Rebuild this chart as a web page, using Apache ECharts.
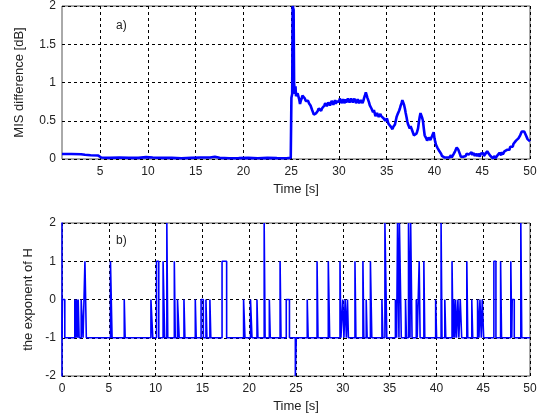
<!DOCTYPE html>
<html>
<head>
<meta charset="utf-8">
<style>
html,body{margin:0;padding:0;background:#fff;}
#chart{width:547px;height:419px;}
</style>
<script src="https://cdn.jsdelivr.net/npm/echarts@6/dist/echarts.min.js"></script>
</head>
<body>
<div id="chart"></div>
<script>
// ---- Panel a) MIS difference [dB] over time ----
var misTime = [1.0,2.0,3.0,3.4,4.0,4.8,5.1,6.0,7.0,8.0,9.0,9.8,10.5,11.5,12.5,13.5,14.5,15.5,16.5,17.0,17.5,18.5,19.5,20.5,21.5,22.5,23.5,24.5,24.95,
25.02,25.1,25.15,25.25,25.3,25.38,25.45,25.5,
25.58,25.665,25.75,25.835,25.92,26.0,26.09,26.175,26.26,26.345,26.43,26.515,26.6,26.685,26.77,26.855,26.94,27.02,27.1,27.19,27.28,27.365,27.45,27.535,27.62,27.705,27.79,27.875,27.96,28.045,28.13,28.215,28.3,28.385,
28.47,28.555,28.64,28.72,28.8,28.885,28.97,29.06,29.15,29.235,29.32,29.41,29.5,29.585,29.67,29.75,29.83,29.915,
30.0,30.085,30.17,30.26,30.35,30.425,30.5,30.59,30.68,30.765,30.85,30.935,31.02,31.105,31.19,31.275,31.36,31.445,31.53,31.615,31.7,31.785,31.87,31.955,
32.04,32.12,32.2,32.29,32.38,32.465,32.55,32.635,32.72,32.81,32.9,32.98,33.06,33.145,33.23,33.315,33.4,33.485,33.57,33.655,33.74,33.82,33.9,33.985,
34.07,34.16,34.25,34.335,34.42,34.51,34.6,34.685,34.77,34.85,34.93,35.015,35.1,35.185,35.27,35.355,35.44,35.52,35.6,35.69,35.78,
35.86,35.945,36.03,36.12,36.21,36.295,36.38,36.465,36.55,36.635,36.72,36.81,36.9,36.985,37.07,37.155,37.24,37.325,37.41,37.5,37.59,37.675,37.76,37.845,37.93,38.015,
38.1,38.19,38.28,38.365,38.45,38.535,38.62,38.705,38.79,38.88,38.97,39.055,39.14,39.225,39.31,39.395,39.48,39.57,39.66,39.745,39.83,39.915,
40.0,40.085,40.17,40.255,40.34,40.43,40.52,40.605,40.69,40.775,40.86,40.945,41.03,41.12,41.21,41.295,41.38,41.465,41.55,41.635,41.72,41.81,41.9,41.985,
42.07,42.155,42.24,42.325,42.41,42.5,42.59,42.675,42.76,42.845,42.93,43.015,43.1,43.19,43.28,43.365,43.45,43.535,43.62,43.705,43.79,43.88,43.97,44.055,
44.14,44.225,44.31,44.395,44.48,44.57,44.66,44.745,44.83,44.915,45.0,45.085,45.17,45.255,45.34,45.43,45.52,45.605,45.69,45.775,45.86,45.945,
46.03,46.12,46.21,46.295,46.38,46.465,46.55,46.635,46.72,46.81,46.9,46.985,47.07,47.155,47.24,47.325,47.41,47.5,47.59,47.675,47.76,47.845,47.93,48.015,
48.1,48.19,48.28,48.365,48.45,48.535,48.62,48.705,48.79,48.88,48.97,49.055,49.14,49.225,49.31,49.395,49.48,49.57,49.66,49.745,49.83,49.915,50.0];
var misValue = [0.065,0.065,0.063,0.055,0.05,0.045,0.02,0.015,0.02,0.015,0.015,0.025,0.02,0.015,0.015,0.01,0.015,0.02,0.02,0.03,0.015,0.01,0.012,0.015,0.01,0.015,0.012,0.01,0.015,
0.8,0.85,2.0,1.95,1.0,0.85,0.95,0.82,
0.81,0.86,0.85,0.78,0.72,0.76,0.79,0.83,0.81,0.83,0.79,0.76,0.74,0.78,0.76,0.73,0.72,0.70,0.68,0.64,0.61,0.58,0.57,0.59,0.60,0.62,0.63,0.66,0.67,0.64,0.63,0.66,0.68,0.66,
0.70,0.73,0.72,0.69,0.70,0.74,0.73,0.70,0.72,0.76,0.74,0.71,0.74,0.77,0.72,0.75,0.76,0.73,
0.75,0.79,0.77,0.73,0.74,0.78,0.76,0.73,0.78,0.74,0.75,0.79,0.77,0.74,0.76,0.79,0.78,0.74,0.76,0.79,0.77,0.73,0.75,0.78,
0.76,0.73,0.74,0.77,0.75,0.73,0.76,0.80,0.83,0.87,0.85,0.80,0.78,0.74,0.70,0.72,0.66,0.64,0.61,0.64,0.60,0.56,0.57,0.60,
0.58,0.55,0.57,0.59,0.56,0.58,0.55,0.53,0.52,0.50,0.48,0.53,0.51,0.46,0.44,0.46,0.42,0.40,0.39,0.42,0.41,
0.45,0.50,0.55,0.58,0.60,0.63,0.66,0.70,0.73,0.77,0.75,0.71,0.66,0.60,0.55,0.49,0.45,0.43,0.40,0.43,0.42,0.37,0.34,0.31,0.29,0.32,
0.33,0.36,0.40,0.48,0.55,0.60,0.58,0.54,0.50,0.40,0.31,0.29,0.27,0.24,0.25,0.28,0.27,0.25,0.27,0.30,0.31,0.35,
0.27,0.22,0.18,0.16,0.14,0.12,0.10,0.08,0.07,0.04,0.05,0.03,0.02,0.00,0.01,0.02,0.03,0.00,0.02,0.04,0.05,0.02,0.04,0.06,
0.07,0.10,0.12,0.15,0.14,0.12,0.10,0.06,0.03,0.01,0.01,0.03,0.02,0.05,0.04,0.07,0.05,0.08,0.06,0.04,0.07,0.09,0.05,0.08,
0.06,0.04,0.07,0.09,0.04,0.07,0.05,0.03,0.07,0.09,0.06,0.08,0.04,0.06,0.07,0.09,0.10,0.12,0.07,0.05,0.04,0.06,
0.03,0.01,0.02,0.04,0.01,0.03,0.04,0.02,0.05,0.08,0.07,0.05,0.09,0.06,0.07,0.10,0.10,0.08,0.12,0.10,0.14,0.12,0.16,0.14,
0.18,0.16,0.20,0.18,0.21,0.24,0.23,0.25,0.27,0.25,0.31,0.33,0.36,0.38,0.38,0.36,0.34,0.31,0.29,0.26,0.27,0.25,0.23];

// ---- Panel b) exponent of H: baseline -1 with excursions (start, end, level) ----
var hBase = -1;
var hStart = [0.05,1.37,1.55,1.73,2.05,2.45,5.18,6.65,9.5,10.1,10.8,11.2,12.0,12.34,13.03,14.24,14.86,15.38,15.8,17.1,
19.4,20.14,20.83,21.6,22.15,23.3,23.96,24.93,26.2,27.25,28.45,29.7,30.0,30.25,30.5,31.3,32.15,32.5,32.95,34.18,34.5,
35.62,35.85,36.05,36.7,37.02,37.25,37.85,38.16,38.66,39.92,40.5,40.9,41.67,41.85,42.05,42.3,42.55,43.25,43.78,44.4,44.65,44.9,
46.14,46.86,47.95,48.1,49.02];
var hEnd = [0.3,1.47,1.65,1.83,2.25,2.6,5.35,6.75,9.7,10.34,10.97,11.3,12.1,12.52,13.13,14.34,15.1,15.48,15.9,17.59,
19.55,20.3,20.93,21.7,22.25,23.4,24.3,25.03,26.3,27.35,28.6,29.8,30.12,30.38,30.6,31.4,32.25,32.6,33.1,34.28,34.7,
35.75,36.0,36.25,36.8,37.18,37.4,37.95,38.26,38.76,40.02,40.6,41.0,41.77,41.95,42.15,42.4,42.7,43.35,43.88,44.55,44.8,45.05,
46.36,46.96,48.05,48.32,49.12];
var hLevel = [0,0,0,0,0,1,1,0,0,1,1,2,1,0,0,0,0,0,0,1,
0,0,0,2,0,1,0,-2,0,1,1,1,0,0,0,1,1,0,1,0,2,
0,2,2,0,2,2,0,1,1,0,2,0,1,0,0,0,0,1,0,0,0,0,
1,1,1,0,2];

var xTicksA = [5,10,15,20,25,30,35,40,45,50];

function buildA(){
  var d=[]; for(var i=0;i<misTime.length;i++) d.push([misTime[i],misValue[i]]); return d;
}
function buildB(){
  var d=[[0,hBase]];
  for(var i=0;i<hStart.length;i++){
    d.push([hStart[i],hBase]); d.push([hStart[i],hLevel[i]]);
    d.push([hEnd[i],hLevel[i]]); d.push([hEnd[i],hBase]);
  }
  d.push([50,hBase]);
  return d;
}

var FONT = '"Liberation Sans", Arial, sans-serif';
var TXT = '#222';
var gridSplit = {show:true, lineStyle:{color:'#000', type:[3,3], width:1}};

var chart = echarts.init(document.getElementById('chart'), null, {renderer:'canvas'});
chart.setOption({
  backgroundColor:'#fff',
  animation:false,
  textStyle:{fontFamily:FONT},
  grid:[
    {left:62, right:17, top:6, height:153, show:true, borderColor:'#555', borderWidth:1, backgroundColor:'transparent'},
    {left:62, right:17, top:223, height:153, show:true, borderColor:'#555', borderWidth:1, backgroundColor:'transparent'}
  ],
  xAxis:[
    {gridIndex:0, type:'value', min:1, max:50,
     name:'Time [s]', nameLocation:'middle', nameGap:24, nameTextStyle:{color:TXT, fontSize:13, fontFamily:FONT},
     axisLine:{show:false}, axisTick:{show:false, customValues:xTicksA},
     axisLabel:{customValues:xTicksA, color:TXT, fontSize:12, fontFamily:FONT, margin:7},
     splitLine:gridSplit},
    {gridIndex:1, type:'value', min:0, max:50, interval:5,
     name:'Time [s]', nameLocation:'middle', nameGap:24, nameTextStyle:{color:TXT, fontSize:13, fontFamily:FONT},
     axisLine:{show:false}, axisTick:{show:false},
     axisLabel:{color:TXT, fontSize:12, fontFamily:FONT, margin:7},
     splitLine:gridSplit}
  ],
  yAxis:[
    {gridIndex:0, type:'value', min:0, max:2, interval:0.5,
     name:'MIS difference [dB]', nameLocation:'middle', nameGap:36, nameTextStyle:{color:TXT, fontSize:13, fontFamily:FONT},
     axisLine:{show:false}, axisTick:{show:false},
     axisLabel:{color:TXT, fontSize:12, fontFamily:FONT, margin:6},
     splitLine:gridSplit},
    {gridIndex:1, type:'value', min:-2, max:2, interval:1,
     name:'the exponent of H', nameLocation:'middle', nameGap:26, nameTextStyle:{color:TXT, fontSize:13, fontFamily:FONT},
     axisLine:{show:true, lineStyle:{color:'#0000ff', width:1.5}}, axisTick:{show:false},
     axisLabel:{color:TXT, fontSize:12, fontFamily:FONT, margin:6},
     splitLine:gridSplit}
  ],
  graphic:[
    {type:'text', left:116, top:20, style:{text:'a)', fill:TXT, font:'12px '+FONT}},
    {type:'text', left:116, top:235, style:{text:'b)', fill:TXT, font:'12px '+FONT}}
  ],
  series:[
    {type:'line', xAxisIndex:0, yAxisIndex:0, data:buildA(), showSymbol:false, symbol:'none',
     lineStyle:{color:'#0000ff', width:2.6}, z:5},
    {type:'line', xAxisIndex:1, yAxisIndex:1, data:buildB(), showSymbol:false, symbol:'none',
     lineStyle:{color:'#0000ff', width:1.6}, z:5}
  ]
});
</script>
</body>
</html>
